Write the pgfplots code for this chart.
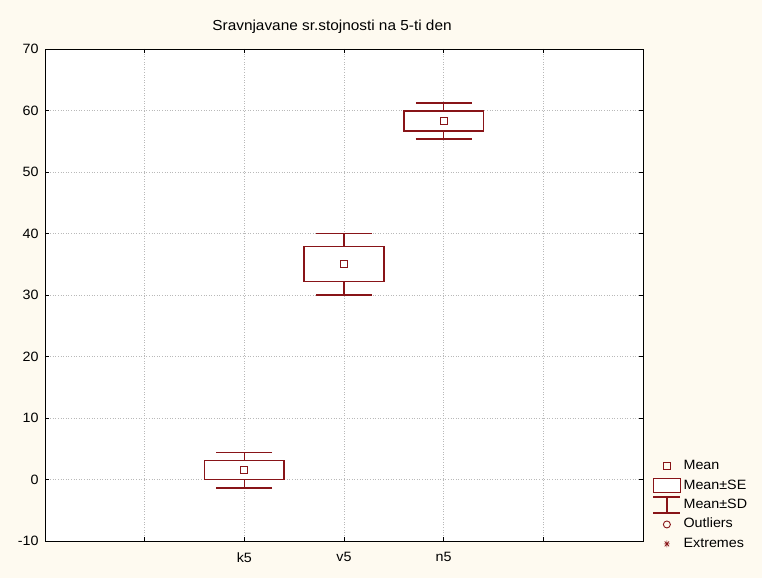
\documentclass[border=0pt]{standalone}
\usepackage{pgfplots}
\pgfplotsset{compat=1.18}
\usepgfplotslibrary{statistics}
\usepackage{fontspec}
\setmainfont[FakeStretch=1.06]{Liberation Sans}
\definecolor{bg}{RGB}{254,250,240}
\definecolor{dred}{RGB}{136,20,24}
\begin{document}
\begin{tikzpicture}[x=1pt,y=1pt]
\fill[bg] (0,0) rectangle (762,578);
\useasboundingbox (0,0) rectangle (762,578);
\begin{axis}[
  at={(45pt,37pt)}, anchor=south west,
  scale only axis, width=598pt, height=492pt,
  xmin=0, xmax=6, ymin=-10, ymax=70,
  xtick={1,2,3,4,5}, xticklabels={,k5,v5,n5,},
  ytick={-10,0,...,70},
  grid=major,
  major grid style={dash pattern=on 1pt off 1.6pt, gray!55, line width=0.6pt},
  axis line style={black, line width=0.8pt},
  tick style={black, line width=0.8pt},
  major tick length=4pt,
  tick align=inside,
  axis background/.style={fill=white},
  /pgf/number format/assume math mode=true,
  tick label style={font=\fontsize{13.5}{15}\selectfont},
  yticklabel style={xshift=-3pt},
  xticklabel style={yshift=-8pt},
  title={Sravnjavane sr.stojnosti na 5-ti den},
  title style={font=\fontsize{14.5}{16}\selectfont, at={(rel axis cs:0.48,1)}, anchor=base, yshift=12pt},
  legend style={at={(rel axis cs:1.0167,0.1655)}, anchor=north west, draw=none, fill=none,
    inner sep=0pt, row sep=6.4pt, font=\fontsize{13.5}{15}\selectfont,
    nodes={inner ysep=0pt, inner xsep=3pt, text height=10pt, text depth=3pt}},
  legend cell align=left,
  boxplot/draw direction=y,
  boxplot/every box/.style={dred, line width=1.6pt, fill=white},
  boxplot/draw/median/.code={},
  boxplot/draw/lower whisker/.code={%
    \draw[dred, line width=1.6pt]
      (boxplot cs:\pgfplotsboxplotvalue{lower quartile}) -- (boxplot cs:\pgfplotsboxplotvalue{lower whisker})
      (boxplot whisker cs:\pgfplotsboxplotvalue{lower whisker},0) -- (boxplot whisker cs:\pgfplotsboxplotvalue{lower whisker},1);},
  boxplot/draw/upper whisker/.code={%
    \draw[dred, line width=1.6pt]
      (boxplot cs:\pgfplotsboxplotvalue{upper quartile}) -- (boxplot cs:\pgfplotsboxplotvalue{upper whisker})
      (boxplot whisker cs:\pgfplotsboxplotvalue{upper whisker},0) -- (boxplot whisker cs:\pgfplotsboxplotvalue{upper whisker},1);},
]
\addlegendimage{legend image code/.code={\path (0pt,-5pt) (27pt,5pt); \draw[overlay, dred, line width=1pt] (10pt,-3.5pt) rectangle (17pt,3.5pt);}}
\addlegendentry{Mean}
\addlegendimage{legend image code/.code={\path (0pt,-5pt) (27pt,5pt); \draw[overlay, dred, line width=1.5pt, fill=white] (0pt,-7pt) rectangle (27pt,7pt);}}
\addlegendentry{Mean±SE}
\addlegendimage{legend image code/.code={\path (0pt,-5pt) (27pt,5pt); \draw[overlay, dred, line width=1.5pt] (0pt,8pt) -- (27pt,8pt) (13.5pt,8pt) -- (13.5pt,-8pt) (0pt,-8pt) -- (27pt,-8pt);}}
\addlegendentry{Mean±SD}
\addlegendimage{legend image code/.code={\path (0pt,-5pt) (27pt,5pt); \draw[overlay, dred, line width=0.9pt] (13.5pt,0pt) circle (3.5pt);}}
\addlegendentry{Outliers}
\addlegendimage{legend image code/.code={\path (0pt,-5pt) (27pt,5pt); \draw[overlay, dred, line width=0.7pt] (10.5pt,0pt) -- (16.5pt,0pt) (13.5pt,-3.5pt) -- (13.5pt,3.5pt) (11.3pt,-2.5pt) -- (15.7pt,2.5pt) (11.3pt,2.5pt) -- (15.7pt,-2.5pt);}}
\addlegendentry{Extremes}
\addplot[forget plot, dred, line width=1.6pt, fill=white,
  boxplot prepared={draw position=2, lower whisker=-1.4, lower quartile=0, median=1.5,
    upper quartile=3.06, upper whisker=4.4, box extend=0.8, whisker extend=0.56}]
  coordinates {};
\addplot[forget plot, dred, line width=1.6pt, fill=white,
  boxplot prepared={draw position=3, lower whisker=30.0, lower quartile=32.2, median=35.0,
    upper quartile=37.9, upper whisker=40.0, box extend=0.8, whisker extend=0.56}]
  coordinates {};
\addplot[forget plot, dred, line width=1.6pt, fill=white,
  boxplot prepared={draw position=4, lower whisker=55.4, lower quartile=56.66, median=58.3,
    upper quartile=59.95, upper whisker=61.2, box extend=0.8, whisker extend=0.56}]
  coordinates {};
\addplot[forget plot, only marks, mark=square, mark size=3.5pt, dred, mark options={line width=1pt}]
  coordinates {(2,1.5) (3,35.0) (4,58.3)};
\end{axis}
\end{tikzpicture}
\end{document}
